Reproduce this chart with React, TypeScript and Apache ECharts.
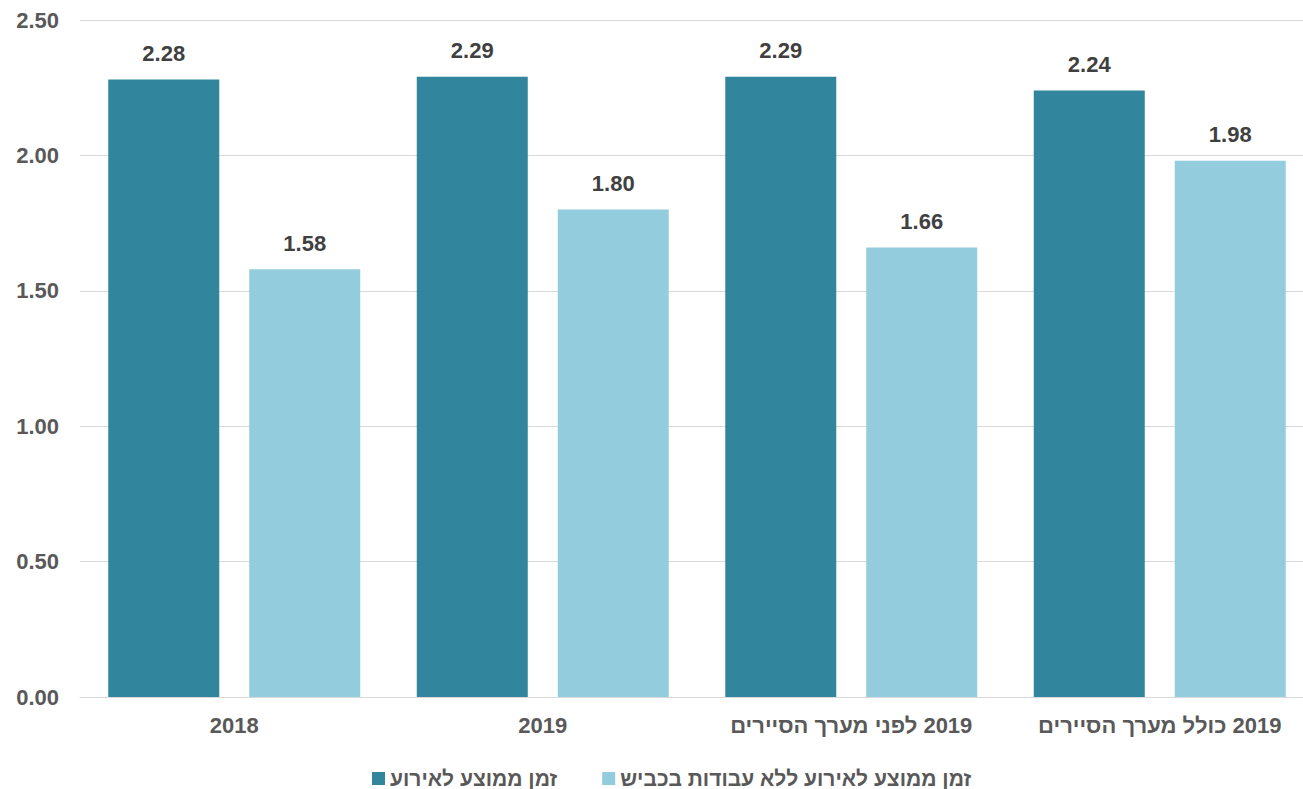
import React, { useEffect, useRef } from "react";
import * as echarts from "echarts";

const RLM = "\u200F";
const categories = ["2018", "2019", "2019 לפני מערך הסיירים", "2019 כולל מערך הסיירים"];
const seriesNames = ["זמן ממוצע לאירוע", "זמן ממוצע לאירוע ללא עבודות בכביש"];
const avgTime = [2.28, 2.29, 2.29, 2.24];
const avgTimeNoRoadworks = [1.58, 1.8, 1.66, 1.98];
const yTicks = { min: 0, max: 2.5, interval: 0.5 };

const FONT = "'Liberation Sans', Arial, sans-serif";

export default function App() {
  const ref = useRef<HTMLDivElement>(null);
  useEffect(() => {
    if (!ref.current) return;
    const chart = echarts.init(ref.current, null, { renderer: "svg" });
    const labelStyle = {
      show: true,
      position: "top",
      distance: 15,
      color: "#404040",
      fontSize: 22,
      fontWeight: "bold",
      fontFamily: FONT,
      formatter: (p: any) => Number(p.value).toFixed(2),
    };
    chart.setOption({
      animation: false,
      backgroundColor: "#ffffff",
      textStyle: { fontFamily: FONT },
      grid: { left: 80, top: 20, right: 0, height: 677, containLabel: false },
      legend: {
        left: 367,
        top: 763,
        itemWidth: 13,
        itemHeight: 13,
        itemGap: 45,
        icon: "rect",
        textStyle: { color: "#595959", fontSize: 21, fontWeight: "bold", fontFamily: FONT },
        data: seriesNames,
      },
      xAxis: {
        type: "category",
        data: categories.map((c) => RLM + c),
        axisLine: { show: true, lineStyle: { color: "#d9d9d9", width: 1 } },
        axisTick: { show: false },
        axisLabel: {
          color: "#595959",
          fontSize: 22,
          fontWeight: "bold",
          fontFamily: FONT,
          margin: 17,
          interval: 0,
        },
      },
      yAxis: {
        type: "value",
        min: yTicks.min,
        max: yTicks.max,
        interval: yTicks.interval,
        axisLine: { show: false },
        axisTick: { show: false },
        splitLine: { lineStyle: { color: "#d9d9d9", width: 1 } },
        axisLabel: {
          color: "#595959",
          fontSize: 22,
          fontWeight: "bold",
          fontFamily: FONT,
          margin: 21,
          formatter: (v: number) => v.toFixed(2),
        },
      },
      series: [
        {
          name: seriesNames[0],
          type: "bar",
          data: avgTime,
          barWidth: 111,
          barGap: "27%",
          itemStyle: { color: "#31859C" },
          label: labelStyle,
        },
        {
          name: seriesNames[1],
          type: "bar",
          data: avgTimeNoRoadworks,
          barWidth: 111,
          barGap: "27%",
          itemStyle: { color: "#93CDDD" },
          label: labelStyle,
        },
      ],
    });
    return () => chart.dispose();
  }, []);
  return (
    <div style={{ position: "absolute", left: 0, top: 0, width: 1303, height: 789, overflow: "hidden" }}>
      <div ref={ref} style={{ width: 1314, height: 789 }} />
    </div>
  );
}
